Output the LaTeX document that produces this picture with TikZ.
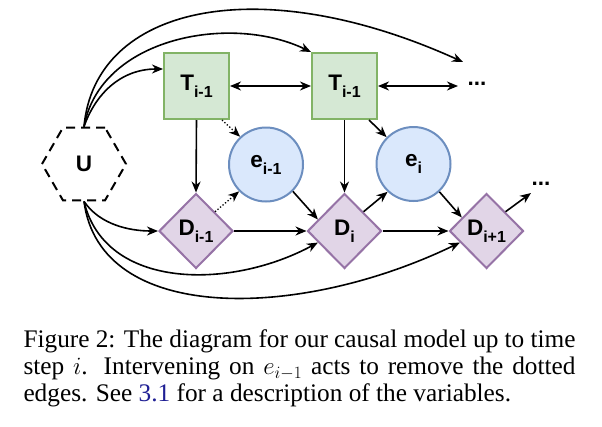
\documentclass[tikz,border=0pt]{standalone}
\usepackage{fontspec}
\setmainfont{Liberation Serif}
\newfontfamily\diagfont{Liberation Sans}
\usetikzlibrary{shapes.geometric,arrows.meta,calc}
\definecolor{tfill}{HTML}{D5E8D4}
\definecolor{tdraw}{HTML}{82B366}
\definecolor{efill}{HTML}{DAE8FC}
\definecolor{edraw}{HTML}{6C8EBF}
\definecolor{dfill}{HTML}{E1D5E7}
\definecolor{ddraw}{HTML}{9673A6}
\definecolor{linkblue}{rgb}{0.12,0.12,0.58}
\newcommand{\lbl}[2]{#1\raisebox{-7pt}{\fontsize{16}{16}\selectfont #2}}
\begin{document}
\begin{tikzpicture}[x=1pt,y=-1pt,
  every node/.style={font=\diagfont\bfseries\fontsize{22.5}{22.5}\selectfont},
  tbox/.style={rectangle,draw=tdraw,fill=tfill,line width=2pt,minimum width=65pt,minimum height=66pt,inner sep=0pt},
  ecirc/.style={circle,draw=edraw,fill=efill,line width=2pt,minimum size=74pt,inner sep=0pt},
  dnode/.style={diamond,draw=ddraw,fill=dfill,line width=2pt,minimum width=74pt,minimum height=75pt,inner sep=0pt},
  hexnode/.style={regular polygon,regular polygon sides=6,draw,dash pattern=on 9pt off 6pt,line width=2pt,minimum size=84pt,inner sep=0pt},
  edge/.style={line width=1.6pt,-{Stealth[length=11pt,width=9pt,inset=3.5pt]}},
  dotedge/.style={line width=1.3pt,dash pattern=on 1.3pt off 2pt,-{Stealth[length=11pt,width=9pt,inset=3.5pt]}},
  dbl/.style={line width=1.6pt,{Stealth[length=11pt,width=9pt,inset=3.5pt]}-{Stealth[length=11pt,width=9pt,inset=3.5pt]}},
  dotsnode/.style={inner sep=0pt}
]
\useasboundingbox (0,0) rectangle (602,426);
% nodes
\node[hexnode] (U) at (84,164) {U};
\node[tbox] (T1) at (196.5,86) {\lbl{T}{i-1}};
\node[tbox] (T2) at (344.5,86) {\lbl{T}{i-1}};
\node[ecirc] (e1) at (266,164.5) {\lbl{e}{i-1}};
\node[ecirc] (e2) at (413.5,164) {\lbl{e}{i}};
\node[dnode] (Dm1) at (196,231) {\lbl{D}{i-1}};
\node[dnode] (Di) at (344.5,231) {\lbl{D}{i}};
\node[dnode] (Dp1) at (486.5,231) {\lbl{D}{i+1}};
\node[dotsnode] (dots1) at (477,84) {...};
\node[dotsnode] (dots2) at (541,184) {...};
\coordinate (dA) at (458,86);
\coordinate (dB) at (463,62);
\coordinate (dC) at (531,193);
% curved edges from U
\draw[edge] (U.north) .. controls (95,95) and (120,69) .. ([yshift=17pt]T1.west);
\draw[edge] (U.north) .. controls (100,38) and (230,13) .. (T2.north west);
\draw[edge] (U.north) .. controls (95,5) and (260,-30) .. (dB);
\draw[edge] (U.south) .. controls (100,225) and (130,231) .. (Dm1.west);
\draw[edge] (U.south) .. controls (105,290) and (230,290) .. ($(Di.west)!0.3!(Di.south)$);
\draw[edge] (U.south) .. controls (100,325) and (300,320) .. ($(Dp1.west)!0.3!(Dp1.south)$);
% straight edges
\draw[edge] (T1.south) -- (Dm1.north);
\draw[dotedge] ([xshift=-8pt]T1.south east) -- (e1.133);
\draw[dotedge] (Dm1.north east) -- (e1.-135);
\draw[dbl] (T1.east) -- (T2.west);
\draw[edge] (Dm1.east) -- (Di.west);
\draw[edge] (e1.-45) -- ($(Di.west)!0.3!(Di.north)$);
\draw[edge] (T2.south) -- (Di.north);
\draw[edge] ([xshift=-9pt]T2.south east) -- (e2.135);
\draw[edge] (Di.north east) -- (e2.-133);
\draw[edge] (Di.east) -- (Dp1.west);
\draw[edge] (e2.-47) -- ($(Dp1.west)!0.35!(Dp1.north)$);
\draw[dbl] (T2.east) -- (dA);
\draw[edge] (Dp1.north east) -- (dC);
% caption
\node[anchor=base west,inner sep=0pt,font=\rmfamily\mdseries\fontsize{25.3}{27.2}\selectfont] (cap) at (23.3,347.3)
  {\parbox[t]{552pt}{Figure 2: The diagram for our causal model up to time\linebreak
   step $i$. Intervening on $e_{i-1}$ acts to remove the dotted\linebreak
   edges. See \textcolor{linkblue}{3.1} for a description of the variables.}};
\end{tikzpicture}
\end{document}
